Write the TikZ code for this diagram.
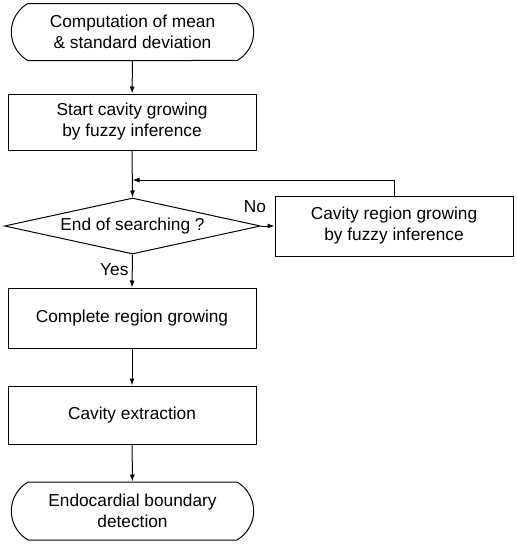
\documentclass[tikz,border=0pt]{standalone}
\usepackage{fontspec}
\setmainfont{Liberation Sans}
\usetikzlibrary{shapes.geometric, shapes.misc, arrows.meta}

\begin{document}
\begin{tikzpicture}[x=1pt, y=-1pt, line width=1pt,
    font=\fontsize{17.3}{21}\selectfont,
    box/.style={draw, rectangle, align=center, minimum width=248pt},
    term/.style={draw, rounded rectangle, rounded rectangle arc length=120, align=center, minimum width=249pt, minimum height=57pt},
    test/.style={draw, diamond, aspect=4.6, inner sep=0pt, minimum width=256pt, minimum height=56pt},
    arr/.style={-{Latex[length=7pt, width=5pt]}}]
    \useasboundingbox (0,0) rectangle (517,544);
    \node [term] (start) at (132.5,32) {Computation of mean\\\& standard deviation};
    \node [box, minimum height=56pt] (init) at (132,122) {Start cavity growing\\by fuzzy inference};
    \node [test] (stop) at (132.5,226) {End of searching ?};
    \node [box, minimum width=238pt, minimum height=60pt] (grow) at (394,226) {Cavity region growing\\by fuzzy inference};
    \node [box, minimum height=60pt] (full) at (132,318) {Complete region growing};
    \node [box, minimum height=58pt] (extr) at (132,415) {Cavity extraction};
    \node [term, minimum height=58pt] (endo) at (132.5,511) {Endocardial boundary\\detection};
    \node (no) at (255,207) {No};
    \coordinate (join) at (132.5,180);

    \draw [arr] (start) -- (init);
    \draw [arr] (init.south) -- (stop.north);
    \draw [arr] (stop.east) -- (grow.west);
    \draw [arr] (grow.north) |- (join);
    \draw [arr] (stop.south) -- node[left, pos=.45]{Yes} (full.north);
    \draw [arr] (full) -- (extr);
    \draw [arr] (extr) -- (endo);
  \end{tikzpicture}
\end{document}
